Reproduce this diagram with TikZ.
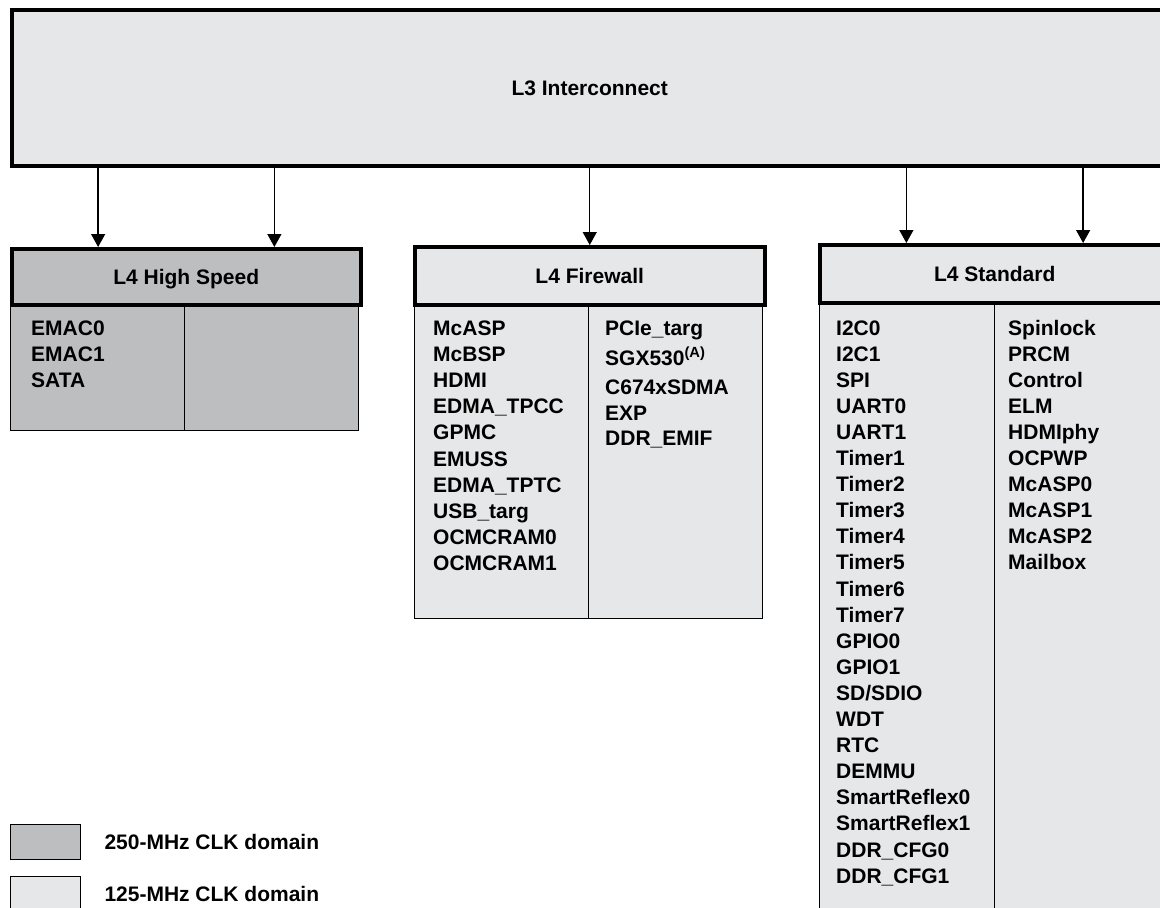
\documentclass[tikz,border=0pt]{standalone}
\usepackage{fontspec}
\setmainfont{Liberation Sans}
\usetikzlibrary{arrows.meta,calc,positioning}
\definecolor{clkfast}{HTML}{BCBEC0}
\definecolor{clkslow}{HTML}{E6E7E8}

\begin{document}
\begin{tikzpicture}[
  x=1pt, y=-1pt,
  font=\bfseries\fontsize{21}{26}\selectfont,
  arr/.style={-{Triangle[width=14pt,length=13pt]}, line width=1.3pt},
  head/.style={rectangle, draw, line width=3.5pt, anchor=north west, inner sep=0pt,
    text height=15pt, text depth=0pt, align=center},
  body/.style={rectangle, draw, line width=1.3pt, anchor=north west, inner sep=0pt},
  entry/.style={anchor=base west, inner sep=0pt},
  legtxt/.style={inner sep=0pt, text height=15pt, text depth=0pt},
]
  \useasboundingbox (0,0) rectangle (1160,908);
  % L3 interconnect (runs off the right edge)
  \node[head, fill=clkslow, minimum width=1156pt, minimum height=156pt] (l3) at (10,8)
    {L3 Interconnect};
  % L4 bodies first, headers on top
  \node[body, fill=clkfast, minimum width=348pt, minimum height=127pt] (hsbody) at (10,303) {};
  \node[body, fill=clkslow, minimum width=348pt, minimum height=315pt] (fwbody) at (414,303) {};
  \node[body, fill=clkslow, minimum width=350pt, minimum height=620pt] (stdbody) at (819,301) {};
  \draw[line width=1.3pt] (hsbody.north) -- (hsbody.south);
  \draw[line width=1.3pt] (fwbody.north) -- (fwbody.south);
  \draw[line width=1.3pt] (stdbody.north) -- (stdbody.south);
  \node[head, fill=clkfast, minimum width=349pt, minimum height=56pt] (hshead) at (10,247)
    {L4 High Speed};
  \node[head, fill=clkslow, minimum width=350pt, minimum height=58pt] (fwhead) at (413,245)
    {L4 Firewall};
  \node[head, fill=clkslow, minimum width=350pt, minimum height=58pt] (stdhead) at (818,243)
    {L4 Standard};
  % Module lists
  \foreach \blk [count=\i from 0] in {EMAC0,EMAC1,SATA}
    \node[entry] (hs-\i) at (31,{335+26*\i}) {\blk};
  \foreach \blk [count=\i from 0] in {McASP,McBSP,HDMI,EDMA\_TPCC,GPMC,EMUSS,
      EDMA\_TPTC,USB\_targ,OCMCRAM0,OCMCRAM1}
    \node[entry] (fwl-\i) at (433,{335+26.2*\i}) {\blk};
  \foreach \blk/\yy [count=\i from 0] in {PCIe\_targ/335,SGX530\textsuperscript{(A)}/365,
      C674xSDMA/394,EXP/420,DDR\_EMIF/445}
    \node[entry] (fwr-\i) at (605,\yy) {\blk};
  \foreach \blk [count=\i from 0] in {I2C0,I2C1,SPI,UART0,UART1,Timer1,Timer2,Timer3,
      Timer4,Timer5,Timer6,Timer7,GPIO0,GPIO1,{SD/SDIO},WDT,RTC,DEMMU,
      SmartReflex0,SmartReflex1,DDR\_CFG0,DDR\_CFG1}
    \node[entry] (stdl-\i) at (836,{335+26.1*\i}) {\blk};
  \foreach \blk [count=\i from 0] in {Spinlock,PRCM,Control,ELM,HDMIphy,OCPWP,
      McASP0,McASP1,McASP2,Mailbox}
    \node[entry] (stdr-\i) at (1008,{335+26.1*\i}) {\blk};
  % Arrows from L3 into the L4 headers
  \coordinate (hsin1) at ($(hshead.north west)!.25!(hshead.north east)$);
  \coordinate (hsin2) at ($(hshead.north west)!.75!(hshead.north east)$);
  \coordinate (stdin1) at ($(stdhead.north west)!.25!(stdhead.north east)$);
  \coordinate (stdin2) at ($(stdhead.north west)!.75!(stdhead.north east)$);
  \draw[arr] (l3.south -| hsin1) -- (hsin1);
  \draw[arr] (l3.south -| hsin2) -- (hsin2);
  \draw[arr] (l3.south -| fwhead.north) -- (fwhead.north);
  \draw[arr] (l3.south -| stdin1) -- (stdin1);
  \draw[arr] (l3.south -| stdin2) -- (stdin2);
  % Legend
  \node[body, fill=clkfast, minimum width=70pt, minimum height=35pt] (leg250) at (10,824) {};
  \node[body, fill=clkslow, minimum width=70pt, minimum height=44pt] (leg125) at (10,876) {};
  \node[legtxt, right=23pt of leg250] (leg250txt) {250-MHz CLK domain};
  \node[legtxt, right=23pt of leg125, yshift=5pt] (leg125txt) {125-MHz CLK domain};
\end{tikzpicture}
\end{document}
